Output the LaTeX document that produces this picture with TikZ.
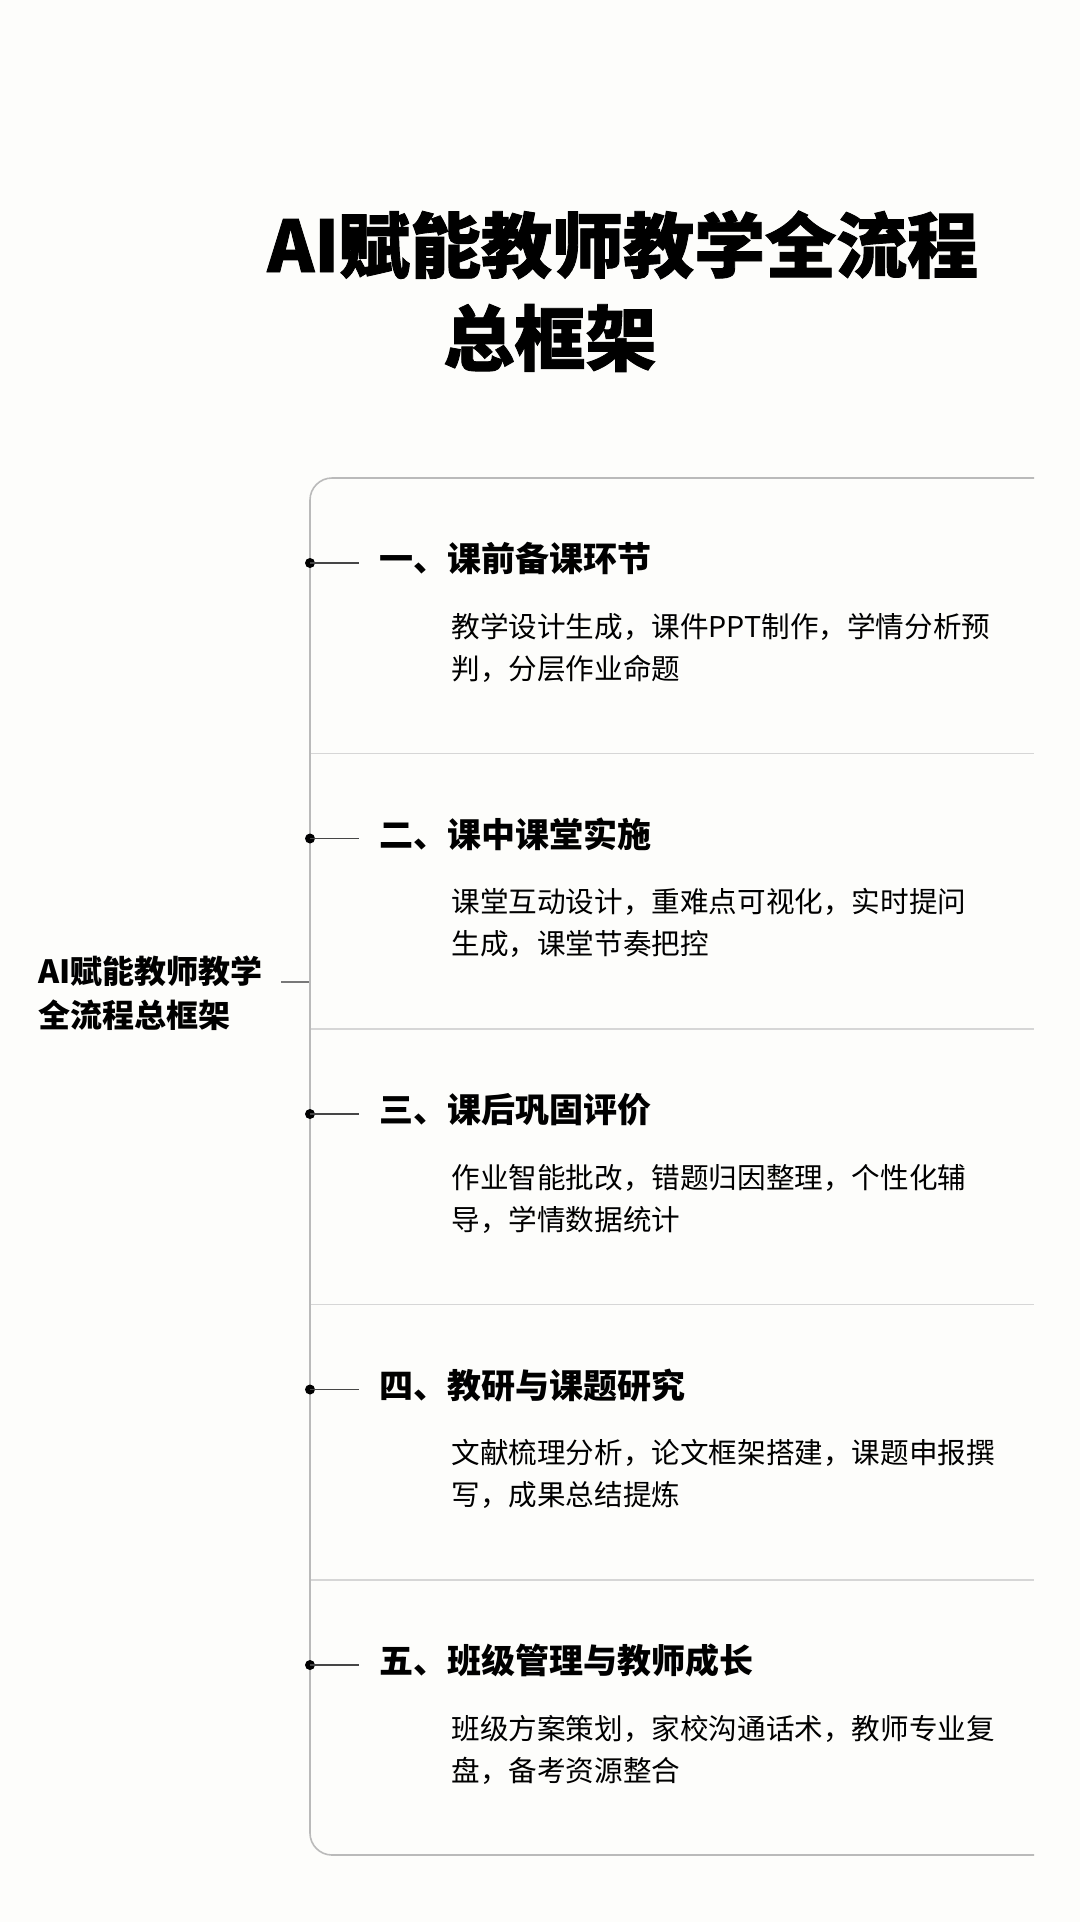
\documentclass[tikz,border=0pt]{standalone}
\usepackage{fontspec}
\setmainfont{Noto Sans CJK SC}
\newfontfamily\heavyfont{Noto Sans CJK SC}[FakeBold=1.2]

\definecolor{paper}{RGB}{253,253,251}
\definecolor{framegray}{RGB}{186,186,186}
\definecolor{rulegray}{RGB}{214,214,214}
\definecolor{stubgray}{RGB}{70,70,70}
\definecolor{hubgray}{RGB}{120,120,120}

\begin{document}
\begin{tikzpicture}[x=0.5pt,y=-0.5pt,
    title/.style={font=\heavyfont\bfseries\fontsize{35.5}{44}\selectfont, inner sep=0pt, anchor=base west},
    root/.style={font=\bfseries\fontsize{16}{22}\selectfont, inner sep=0pt, anchor=base west},
    head/.style={font=\bfseries\fontsize{17}{21}\selectfont, inner sep=0pt, anchor=base west},
    body/.style={font=\fontsize{14.3}{21}\selectfont, inner sep=0pt, anchor=base west},
    dot/.style={circle, fill=black, inner sep=0pt, minimum size=5pt},
    stub/.style={draw=stubgray, line width=0.7pt},
    frame/.style={draw=framegray, line width=0.8pt, rounded corners=11pt},
    rule/.style={draw=rulegray, line width=0.8pt}]

    \fill[paper] (0,0) rectangle (1080,1922);

    % title
    \node[title] (t1) at (267,272) {AI赋能教师教学全流程};
    \node[title] (t2) at (443,365) {总框架};

    % root label
    \node[root] (r1) at (38,983) {AI赋能教师教学};
    \node[root] (r2) at (38,1027) {全流程总框架};
    \coordinate (hub) at (310,982);
    \draw[draw=hubgray, line width=0.6pt] ([xshift=9pt]r1.east |- hub) -- (hub);

    % panel
    \draw[frame] (1034,478) -- (310,478) -- (310,1855) -- (1034,1855);
    \foreach \i in {0,...,3}{%
        \draw[rule] (311,753.5+275.5*\i) -- (1034,753.5+275.5*\i);}

    % branches
    \foreach \i/\head/\lineA/\lineB in {%
        0/一、课前备课环节/教学设计生成，课件PPT制作，学情分析预/判，分层作业命题,
        1/二、课中课堂实施/课堂互动设计，重难点可视化，实时提问/生成，课堂节奏把控,
        2/三、课后巩固评价/作业智能批改，错题归因整理，个性化辅/导，学情数据统计,
        3/四、教研与课题研究/文献梳理分析，论文框架搭建，课题申报撰/写，成果总结提炼,
        4/五、班级管理与教师成长/班级方案策划，家校沟通话术，教师专业复/盘，备考资源整合}{%
        \node[dot] (p\i) at (310,563+275.5*\i) {};
        \node[head] (h\i) at (379,571.5+275.5*\i) {\head};
        \node[body] (b\i a) at (451,637+275.5*\i) {\lineA};
        \node[body] (b\i b) at (451,679+275.5*\i) {\lineB};
        \draw[stub] (p\i.center) -- ([xshift=-10pt]h\i.west |- p\i);}
\end{tikzpicture}
\end{document}
